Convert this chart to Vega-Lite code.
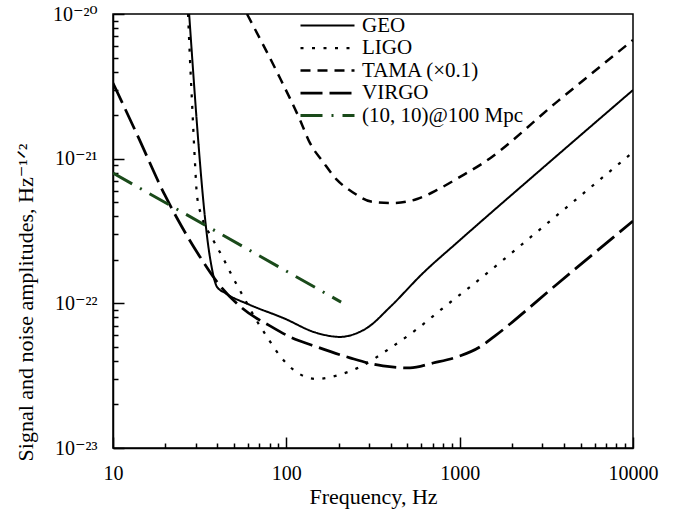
{
  "$schema": "https://vega.github.io/schema/vega-lite/v6.json",
  "width": 520,
  "height": 434,
  "autosize": {"type": "none"},
  "padding": {"left": 113, "top": 14, "right": 49, "bottom": 63},
  "background": "white",
  "config": {
    "font": "Liberation Serif",
    "view": {"stroke": "black", "strokeWidth": 1.5},
    "axis": {"domainColor": "black", "tickColor": "black", "labelColor": "black", "titleColor": "black", "domainWidth": 1.5, "tickWidth": 1.5, "grid": false, "labelFont": "Liberation Serif, DejaVu Serif", "titleFont": "Liberation Serif, DejaVu Serif", "titleFontWeight": "normal"}
  },
  "data": {"values": [
    {"s": "GEO", "f": 27.5, "h": 1e-20},
    {"s": "GEO", "f": 36.3, "h": 2.06e-22},
    {"s": "GEO", "f": 39.8, "h": 1.30e-22},
    {"s": "GEO", "f": 44.3, "h": 1.18e-22},
    {"s": "GEO", "f": 61.7, "h": 9.75e-23},
    {"s": "GEO", "f": 95.7, "h": 7.93e-23},
    {"s": "GEO", "f": 150, "h": 6.24e-23},
    {"s": "GEO", "f": 204, "h": 5.86e-23},
    {"s": "GEO", "f": 249, "h": 6.15e-23},
    {"s": "GEO", "f": 292, "h": 6.76e-23},
    {"s": "GEO", "f": 397, "h": 9.44e-23},
    {"s": "GEO", "f": 615, "h": 1.62e-22},
    {"s": "GEO", "f": 1005, "h": 2.74e-22},
    {"s": "GEO", "f": 3110, "h": 8.91e-22},
    {"s": "GEO", "f": 10000, "h": 2.98e-21},
    {"s": "LIGO", "f": 27.1, "h": 1e-20},
    {"s": "LIGO", "f": 27.8, "h": 4.89e-21},
    {"s": "LIGO", "f": 28.6, "h": 2.39e-21},
    {"s": "LIGO", "f": 29.7, "h": 9.49e-22},
    {"s": "LIGO", "f": 30.5, "h": 5.61e-22},
    {"s": "LIGO", "f": 32.6, "h": 3.95e-22},
    {"s": "LIGO", "f": 37.3, "h": 2.83e-22},
    {"s": "LIGO", "f": 43.1, "h": 2.06e-22},
    {"s": "LIGO", "f": 49.3, "h": 1.50e-22},
    {"s": "LIGO", "f": 57.0, "h": 1.09e-22},
    {"s": "LIGO", "f": 66.0, "h": 7.93e-23},
    {"s": "LIGO", "f": 77.4, "h": 5.86e-23},
    {"s": "LIGO", "f": 91.9, "h": 4.33e-23},
    {"s": "LIGO", "f": 114, "h": 3.36e-23},
    {"s": "LIGO", "f": 150, "h": 3.00e-23},
    {"s": "LIGO", "f": 201, "h": 3.20e-23},
    {"s": "LIGO", "f": 266, "h": 3.63e-23},
    {"s": "LIGO", "f": 391, "h": 4.84e-23},
    {"s": "LIGO", "f": 568, "h": 6.65e-23},
    {"s": "LIGO", "f": 802, "h": 9.29e-23},
    {"s": "LIGO", "f": 1148, "h": 1.30e-22},
    {"s": "LIGO", "f": 3325, "h": 3.71e-22},
    {"s": "LIGO", "f": 10000, "h": 1.11e-21},
    {"s": "TAMA (×0.1)", "f": 59.3, "h": 1e-20},
    {"s": "TAMA (×0.1)", "f": 91.9, "h": 3.61e-21},
    {"s": "TAMA (×0.1)", "f": 120, "h": 1.85e-21},
    {"s": "TAMA (×0.1)", "f": 137, "h": 1.28e-21},
    {"s": "TAMA (×0.1)", "f": 163, "h": 9.49e-22},
    {"s": "TAMA (×0.1)", "f": 196, "h": 7.13e-22},
    {"s": "TAMA (×0.1)", "f": 240, "h": 5.89e-22},
    {"s": "TAMA (×0.1)", "f": 316, "h": 5.02e-22},
    {"s": "TAMA (×0.1)", "f": 413, "h": 4.94e-22},
    {"s": "TAMA (×0.1)", "f": 568, "h": 5.26e-22},
    {"s": "TAMA (×0.1)", "f": 741, "h": 6.08e-22},
    {"s": "TAMA (×0.1)", "f": 1005, "h": 7.48e-22},
    {"s": "TAMA (×0.1)", "f": 1365, "h": 9.33e-22},
    {"s": "TAMA (×0.1)", "f": 3700, "h": 2.51e-21},
    {"s": "TAMA (×0.1)", "f": 10000, "h": 6.61e-21},
    {"s": "VIRGO", "f": 10, "h": 3.33e-21},
    {"s": "VIRGO", "f": 13.8, "h": 1.46e-21},
    {"s": "VIRGO", "f": 19.9, "h": 5.61e-22},
    {"s": "VIRGO", "f": 25.0, "h": 3.37e-22},
    {"s": "VIRGO", "f": 31.8, "h": 2.09e-22},
    {"s": "VIRGO", "f": 40.3, "h": 1.38e-22},
    {"s": "VIRGO", "f": 55.5, "h": 9.29e-23},
    {"s": "VIRGO", "f": 80.5, "h": 6.98e-23},
    {"s": "VIRGO", "f": 105, "h": 5.86e-23},
    {"s": "VIRGO", "f": 150, "h": 5.00e-23},
    {"s": "VIRGO", "f": 233, "h": 4.20e-23},
    {"s": "VIRGO", "f": 361, "h": 3.69e-23},
    {"s": "VIRGO", "f": 517, "h": 3.58e-23},
    {"s": "VIRGO", "f": 702, "h": 3.87e-23},
    {"s": "VIRGO", "f": 966, "h": 4.26e-23},
    {"s": "VIRGO", "f": 1311, "h": 5.00e-23},
    {"s": "VIRGO", "f": 1600, "h": 5.96e-23},
    {"s": "VIRGO", "f": 3597, "h": 1.34e-22},
    {"s": "VIRGO", "f": 10000, "h": 3.71e-22},
    {"s": "(10, 10)@100 Mpc", "f": 10, "h": 7.96e-22},
    {"s": "(10, 10)@100 Mpc", "f": 207, "h": 1.02e-22}
  ]},
  "mark": {"type": "line", "clip": true, "interpolate": "monotone"},
  "encoding": {
    "x": {"field": "f", "type": "quantitative",
      "scale": {"type": "log", "domain": [10, 10000], "nice": false},
      "axis": {"title": "Frequency, Hz", "titleFontSize": 22, "labelFontSize": 20,
        "titleY": 48, "titleBaseline": "middle",
        "values": [10,20,30,40,50,60,70,80,90,100,200,300,400,500,600,700,800,900,1000,2000,3000,4000,5000,6000,7000,8000,9000,10000],
        "labelExpr": "indexof([10,100,1000,10000], datum.value) >= 0 ? datum.value + '' : ''",
        "tickSize": {"condition": {"test": "indexof([10,100,1000,10000], datum.value) >= 0", "value": -11}, "value": -5},
        "labelPadding": 26, "labelFlush": false, "labelOverlap": false}},
    "y": {"field": "h", "type": "quantitative",
      "scale": {"type": "log", "domain": [1e-23, 1e-20], "nice": false},
      "axis": {"title": "Signal and noise amplitudes, Hz⁻¹ᐟ²", "titleFontSize": 22, "labelFontSize": 20,
        "values": [1e-23,2e-23,3e-23,4e-23,5e-23,6e-23,7e-23,8e-23,9e-23,1e-22,2e-22,3e-22,4e-22,5e-22,6e-22,7e-22,8e-22,9e-22,1e-21,2e-21,3e-21,4e-21,5e-21,6e-21,7e-21,8e-21,9e-21,1e-20],
        "labelExpr": "datum.value == 1e-20 ? '10⁻²⁰' : datum.value == 1e-21 ? '10⁻²¹' : datum.value == 1e-22 ? '10⁻²²' : datum.value == 1e-23 ? '10⁻²³' : ''",
        "tickSize": {"condition": {"test": "indexof([1e-20,1e-21,1e-22,1e-23], datum.value) >= 0", "value": -11}, "value": -5},
        "labelPadding": 27, "labelFlush": false, "labelOverlap": false,
        "titleX": -88, "titleY": 288, "titleAngle": -90, "titleAlign": "center", "titleBaseline": "middle"}},
    "color": {"field": "s", "type": "nominal",
      "scale": {"domain": ["GEO", "LIGO", "TAMA (×0.1)", "VIRGO", "(10, 10)@100 Mpc"], "range": ["black", "black", "black", "black", "#1a4a1a"]},
      "legend": {"title": null, "orient": "none", "legendX": 204, "legendY": 1, "labelFontSize": 21, "labelFont": "Liberation Serif", "labelColor": "black", "labelLimit": 400, "symbolType": "M-3,0H3", "symbolSize": 324, "rowPadding": 0.5, "padding": 0, "labelOffset": 24}},
    "strokeDash": {"field": "s", "type": "nominal",
      "scale": {"domain": ["GEO", "LIGO", "TAMA (×0.1)", "VIRGO", "(10, 10)@100 Mpc"], "range": [[1, 0], [3, 8.5], [10, 7], [22, 7], [22, 9, 2, 9]]}},
    "strokeWidth": {"field": "s", "type": "nominal",
      "scale": {"domain": ["GEO", "LIGO", "TAMA (×0.1)", "VIRGO", "(10, 10)@100 Mpc"], "range": [2, 3, 2, 2, 2]}}
  }
}
